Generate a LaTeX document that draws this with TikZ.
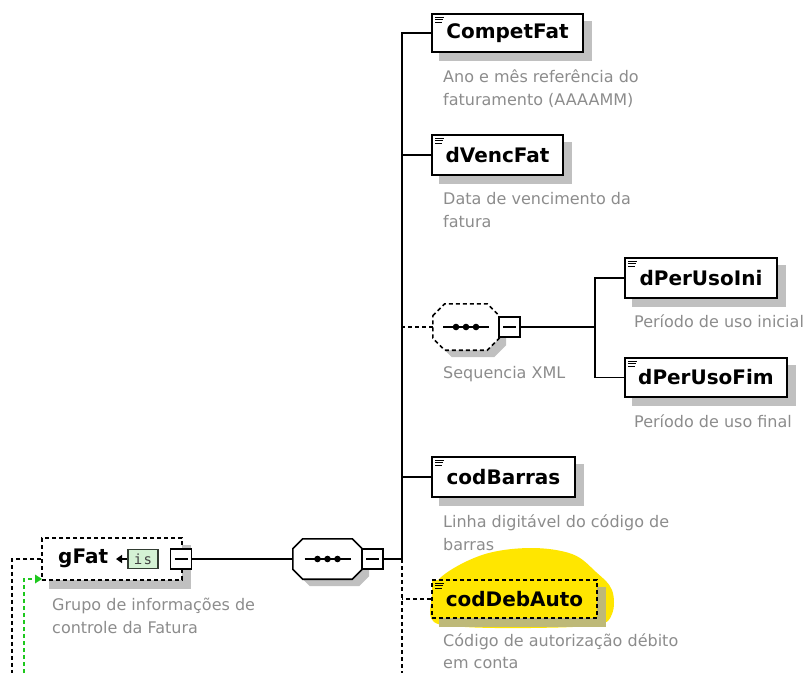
\documentclass[tikz,border=0pt]{standalone}
\usepackage{fontspec}
\setmainfont{DejaVu Sans}
\setmonofont{DejaVu Sans Mono}
\usetikzlibrary{calc,arrows.meta}
\pgfdeclarelayer{hl}
\pgfdeclarelayer{bg}
\pgfsetlayers{hl,bg,main}
\definecolor{capgray}{RGB}{140,140,140}
\definecolor{shgray}{RGB}{192,192,192}
\definecolor{hlshgray}{RGB}{190,185,120}
\definecolor{hlyellow}{RGB}{255,230,0}
\definecolor{isgreen}{RGB}{212,242,212}
\definecolor{isborder}{RGB}{50,60,50}
\definecolor{dashgreen}{RGB}{30,200,30}
\newcommand\xoctpath[2]{($(#1.north west)+(0,#2)$) -- ($(#1.north west)+(#2,0)$) -- ($(#1.north east)+(-#2,0)$) -- ($(#1.north east)+(0,#2)$) -- ($(#1.south east)+(0,-#2)$) -- ($(#1.south east)+(-#2,0)$) -- ($(#1.south west)+(#2,0)$) -- ($(#1.south west)+(0,-#2)$) -- cycle}
\newcommand\xdocicon[1]{\draw[line width=1pt] ($(#1.north west)+(4,4)$) -- ++(9,0) ($(#1.north west)+(4,6.7)$) -- ++(8,0) ($(#1.north west)+(4,9.4)$) -- ++(7,0);}
\newcommand\xrectshadow[2]{\fill[#2, transform canvas={shift={(8,8)}}] (#1.north west) rectangle (#1.south east);}
\newcommand\xdots[1]{\draw[line width=1.4pt] ($(#1.center)+(-23,0)$) -- ($(#1.center)+(23,0)$);
  \fill ($(#1.center)+(-10,0)$) circle (3.3) (#1.center) circle (3.3) ($(#1.center)+(10,0)$) circle (3.3);}
\begin{document}
\begin{tikzpicture}[x=1pt,y=-1pt,
  elem/.style={draw, line width=1.6pt, fill=white, inner sep=0pt,
    font=\fontsize{20}{23}\selectfont\bfseries},
  optelem/.style={elem, dash pattern=on 4pt off 3pt},
  captxt/.style={anchor=base west, align=left, inner sep=0pt,
    font=\fontsize{16}{23}\selectfont, text=capgray},
  minusbox/.style={draw, line width=1.5pt, fill=white, minimum width=21, minimum height=20, inner sep=0pt,
    path picture={\draw[line width=1.3pt] ($(path picture bounding box.west)+(4,0)$) -- ($(path picture bounding box.east)+(-4,0)$);}},
  seqframe/.style={minimum width=#1, inner sep=0pt},
  conn/.style={line width=1.5pt},
  dconn/.style={line width=1.5pt, dash pattern=on 4pt off 3pt},
]
\useasboundingbox (0,0) rectangle (808,673);

% ---------- highlight ----------
\begin{pgfonlayer}{hl}
\fill[hlyellow] plot[smooth cycle, tension=0.6] coordinates {(431,603) (440,578) (482,555) (530,548) (572,554) (596,572) (612,590) (612,614) (596,625) (530,628) (465,627) (434,622)};
\end{pgfonlayer}

% ---------- element boxes ----------
\node[elem, minimum width=151, minimum height=38] (competfat) at (507.5,33) {CompetFat};
\node[elem, minimum width=131, minimum height=40] (dvencfat) at (497.5,155) {dVencFat};
\node[elem, minimum width=152, minimum height=40] (dperusoini) at (701,278) {dPerUsoIni};
\node[elem, minimum width=162, minimum height=39] (dperusofim) at (706,377.5) {dPerUsoFim};
\node[elem, minimum width=143, minimum height=40] (codbarras) at (503.5,477) {codBarras};
\node[optelem, fill=hlyellow, minimum width=165, minimum height=38] (coddebauto) at (514.5,599) {codDebAuto};
\foreach \n in {competfat,dvencfat,dperusoini,dperusofim,codbarras,coddebauto}{\xdocicon{\n}}

% ---------- captions ----------
\node[captxt] (capcompet) at (443,105) {Ano e mês referência do\\faturamento (AAAAMM)};
\node[captxt] (capdvenc) at (443,227) {Data de vencimento da\\fatura};
\node[captxt] (capseq) at (443,378) {Sequencia XML};
\node[captxt] (capini) at (634,327) {Período de uso inicial};
\node[captxt] (capfim) at (634,427) {Período de uso final};
\node[captxt] (capbarras) at (443,550) {Linha digitável do código de\\barras};
\node[captxt, font=\fontsize{16}{22}\selectfont] (capdeb) at (443,668) {Código de autorização débito\\em conta};
\node[captxt] (capgfat) at (52,633) {Grupo de informações de\\controle da Fatura};

% ---------- gFat ----------
\node[draw, fill=white, line width=1.5pt, dash pattern=on 4pt off 3pt, minimum width=140, minimum height=42, inner sep=0pt] (gfat) at (112,559) {};
\node[anchor=west, inner sep=0pt, font=\fontsize{20}{23}\selectfont\bfseries] (gfatlabel) at (58,558) {gFat};
\node[draw=isborder, fill=isgreen, line width=1.2pt, minimum width=30, minimum height=19, inner sep=0pt,
  font=\fontsize{14}{14}\selectfont\ttfamily, text=black!75] (isicon) at (143,559) {i\kern1.5pt s};
\coordinate (isarrow) at (116,559);
\draw[line width=1.4pt, -{Triangle[length=6pt,width=8pt]}] (isicon.west) -- (isarrow);
\node[minusbox] (gfatminus) at (181,559) {};

% ---------- main sequence ----------
\node[seqframe=69, minimum height=40] (mainseq) at (327.5,559) {};
\node[minusbox] (mainminus) at (372.5,559) {};

% ---------- sequencia XML ----------
\node[seqframe=66, minimum height=46] (seqxml) at (466,327) {};
\node[minusbox] (seqminus) at (509.5,327) {};

% shadows
\begin{pgfonlayer}{bg}
\foreach \n in {competfat,dvencfat,dperusoini,dperusofim,codbarras,gfat}{\xrectshadow{\n}{shgray}}
\xrectshadow{coddebauto}{hlshgray}
\fill[shgray, transform canvas={shift={(7,7)}}] \xoctpath{mainseq}{10};
\fill[shgray, transform canvas={shift={(7,7)}}] \xoctpath{seqxml}{12};
\end{pgfonlayer}

\draw[line width=1.6pt, fill=white] \xoctpath{mainseq}{10};
\xdots{mainseq}
\node[minusbox] at (mainminus) {};
\draw[line width=1.6pt, fill=white, dash pattern=on 4pt off 3pt] \xoctpath{seqxml}{12};
\xdots{seqxml}
\node[minusbox] at (seqminus) {};

% ---------- connectors ----------
\coordinate (tjoin) at (402,559);
\coordinate (tbot) at (402,673);
\coordinate (branch) at (595,327);
\draw[conn] (gfatminus.east) -- (mainseq.west);
\draw[conn] (mainminus.east) -- (tjoin);
\draw[conn] (competfat.west) -- (competfat.west -| tjoin) -- (tjoin);
\draw[dconn] (tjoin) -- (tbot);
\draw[conn] (dvencfat.west) -- (dvencfat.west -| tjoin);
\draw[dconn] (seqxml.west) -- (seqxml.west -| tjoin);
\draw[conn] (codbarras.west) -- (codbarras.west -| tjoin);
\draw[dconn] (coddebauto.west) -- (coddebauto.west -| tjoin);
\draw[conn] (seqminus.east) -- (branch);
\draw[conn] (dperusoini.west) -- (dperusoini.west -| branch) -- (dperusofim.west -| branch) -- (dperusofim.west);

% ---------- left incoming links ----------
\coordinate (lcorner) at (12,559);
\coordinate (lbot) at (12,673);
\coordinate (gcorner) at (24,579);
\coordinate (gbot) at (24,673);
\coordinate (gtip) at (42,579);
\draw[dconn] (gfat.west) -- (lcorner) -- (lbot);
\draw[line width=1.5pt, dashgreen, dash pattern=on 4pt off 3pt] (gbot) -- (gcorner) -- ($(gtip)+(-7,0)$);
\fill[dashgreen] (gtip) -- ++(-7,-4.5) -- ++(0,9) -- cycle;
\end{tikzpicture}
\end{document}
